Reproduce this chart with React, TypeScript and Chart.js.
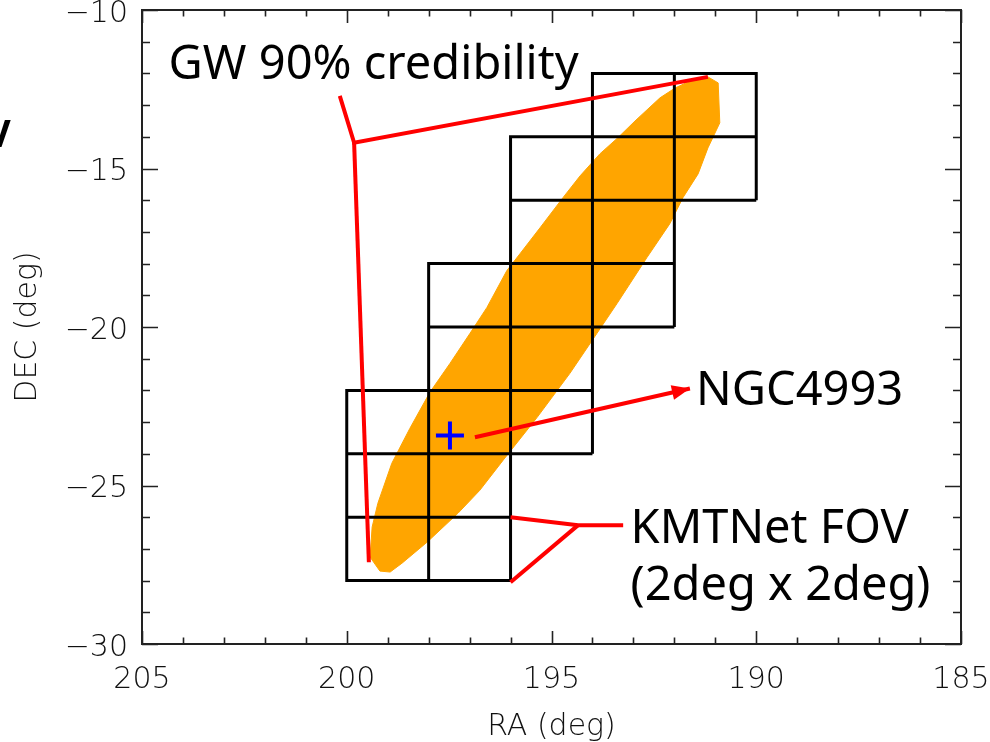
import React, { useEffect, useRef } from 'react';
import { Chart, registerables } from 'chart.js';

Chart.register(...registerables);

// GW 90% credibility region outline (RA, DEC in degrees)
const gwRA = [191.50, 191.18, 190.93, 190.89, 191.18, 191.42, 191.79, 192.11, 192.67, 193.40, 193.89, 194.55, 195.35, 196.18, 196.75, 197.28, 198.04, 198.65, 198.94, 199.19, 199.43, 199.38, 199.24, 198.90, 198.46, 197.97, 197.48, 196.99, 196.58, 196.09, 195.77, 195.28, 194.72, 194.30, 193.82, 193.38, 192.96, 192.35, 191.98];
const gwDEC = [-12.17, -12.11, -12.30, -13.56, -14.35, -15.17, -15.92, -16.74, -17.81, -19.26, -20.20, -21.46, -22.85, -24.20, -25.15, -25.87, -26.79, -27.45, -27.73, -27.70, -27.26, -26.31, -25.56, -24.30, -23.20, -22.06, -21.15, -20.20, -19.39, -18.22, -17.69, -16.87, -15.92, -15.23, -14.54, -14.03, -13.50, -12.77, -12.46];

// KMTNet fields (2deg x 2deg), centres
const tileRA = [193, 191, 193, 191, 195, 195, 193, 195, 193, 197, 197, 195, 199, 197, 195, 199, 197, 199, 197];
const tileDEC = [-13, -13, -15, -15, -15, -17, -17, -19, -19, -19, -21, -21, -23, -23, -23, -25, -25, -27, -27];
const tileSize = 2;

// NGC4993 position
const ngcRA = [197.48];
const ngcDEC = [-23.42];

// Leader lines (RA, DEC)
const gwLeadRA = [200.17, 199.82, 191.18];
const gwLeadDEC = [-12.71, -14.19, -12.11];
const gwLead2RA = [199.82, 199.46];
const gwLead2DEC = [-14.19, -27.42];
const ngcArrowRA = [196.87, 191.62];
const ngcArrowDEC = [-23.48, -21.94];
const kmtLeadRA = [196.0, 194.35, 193.25];
const kmtLeadDEC = [-26.0, -26.25, -26.25];
const kmtLead2RA = [196.0, 194.35];
const kmtLead2DEC = [-28.05, -26.25];

// Annotation texts and their anchors (left, baseline) in RA/DEC
const annotText = ['GW 90% credibility', 'NGC4993', 'KMTNet FOV', '(2deg x 2deg)'];
const annotRA = [204.35, 191.47, 193.07, 193.07];
const annotDEC = [-12.17, -22.47, -26.82, -28.61];

// Axes
const xMajorTicks = [205, 200, 195, 190, 185];
const yMajorTicks = [-30, -25, -20, -15, -10];
const xRange = [185, 205];
const yRange = [-30, -10];

const pts = (xs: number[], ys: number[]) => xs.map((x, i) => ({ x, y: ys[i] }));

const AXIS_FONT = { family: 'DejaVu Sans', size: 30, weight: 200 as any };

export default function App() {
  const ref = useRef<HTMLCanvasElement | null>(null);

  useEffect(() => {
    if (!ref.current) return;

    const blob = pts(gwRA, gwDEC);
    blob.push({ ...blob[0] });

    const boxData: any[] = [];
    tileRA.forEach((ra, i) => {
      const dec = tileDEC[i];
      const h = tileSize / 2;
      boxData.push({ x: ra - h, y: dec - h }, { x: ra + h, y: dec - h }, { x: ra + h, y: dec + h }, { x: ra - h, y: dec + h }, { x: ra - h, y: dec - h }, { x: null, y: null });
    });

    const redLine = (data: any[], order: number) => ({
      data, showLine: true, borderColor: '#ff0000', borderWidth: 4, pointRadius: 0, fill: false, order,
      borderJoinStyle: 'miter' as const,
    });

    const datasets: any[] = [
      { data: blob, showLine: true, fill: 'shape', backgroundColor: '#ffa500', borderColor: '#ffa500', borderWidth: 1, pointRadius: 0, order: 10 },
      { data: boxData, showLine: true, borderColor: '#000000', borderWidth: 3, pointRadius: 0, fill: false, spanGaps: false, order: 5 },
      redLine(pts(gwLeadRA, gwLeadDEC), 2),
      redLine(pts(gwLead2RA, gwLead2DEC), 2),
      redLine(pts(ngcArrowRA, ngcArrowDEC), 2),
      redLine(pts(kmtLeadRA, kmtLeadDEC), 2),
      redLine(pts(kmtLead2RA, kmtLead2DEC), 2),
      { data: pts(ngcRA, ngcDEC), showLine: false, pointStyle: 'cross', pointRadius: 14, pointBorderWidth: 4, pointBorderColor: '#0000ff', borderColor: '#0000ff', order: 1 },
    ];
    const arrowIndex = 4;

    const annotPlugin = {
      id: 'annot',
      afterDatasetsDraw(chart: any) {
        const { ctx, scales } = chart;
        const x = scales.x, y = scales.y;
        // arrow head
        const meta = chart.getDatasetMeta(arrowIndex);
        const p = meta.data;
        const p0 = p[p.length - 2], p1 = p[p.length - 1];
        const ang = Math.atan2(p1.y - p0.y, p1.x - p0.x);
        const L = 18, W = 7.5;
        const bx = p1.x - L * Math.cos(ang), by = p1.y - L * Math.sin(ang);
        const nx = -Math.sin(ang), ny = Math.cos(ang);
        ctx.save();
        ctx.fillStyle = '#ff0000';
        ctx.beginPath();
        ctx.moveTo(p1.x, p1.y);
        ctx.lineTo(bx + W * nx, by + W * ny);
        ctx.lineTo(bx - W * nx, by - W * ny);
        ctx.closePath();
        ctx.fill();
        // texts
        ctx.fillStyle = '#000000';
        ctx.font = '47px "Noto Sans"';
        ctx.textAlign = 'left';
        ctx.textBaseline = 'alphabetic';
        annotText.forEach((t, i) => {
          ctx.fillText(t, x.getPixelForValue(annotRA[i]), y.getPixelForValue(annotDEC[i]));
        });
        ctx.restore();
      },
      afterDraw(chart: any) {
        const { ctx, chartArea: a, scales } = chart;
        const x = scales.x, y = scales.y;
        ctx.save();
        ctx.strokeStyle = '#222222';
        ctx.lineWidth = 2;
        ctx.strokeRect(a.left, a.top, a.right - a.left, a.bottom - a.top);
        ctx.beginPath();
        for (let v = xRange[0]; v <= xRange[1]; v++) {
          const px = Math.round(x.getPixelForValue(v)) + 0.5;
          const len = xMajorTicks.includes(v) ? 13 : 6.5;
          ctx.moveTo(px, a.bottom); ctx.lineTo(px, a.bottom - len);
          ctx.moveTo(px, a.top); ctx.lineTo(px, a.top + len);
        }
        for (let v = yRange[0]; v <= yRange[1]; v++) {
          const py = Math.round(y.getPixelForValue(v)) + 0.5;
          const len = yMajorTicks.includes(v) ? 16 : 8;
          ctx.moveTo(a.left, py); ctx.lineTo(a.left + len, py);
          ctx.moveTo(a.right, py); ctx.lineTo(a.right - len, py);
        }
        ctx.lineWidth = 1.6;
        ctx.stroke();
        ctx.restore();
      },
    };

    const zeroMargins = (s: any) => {
      s.paddingLeft = 0; s.paddingRight = 0; s.paddingTop = 0; s.paddingBottom = 0;
    };

    const chart = new Chart(ref.current, {
      type: 'scatter',
      data: { datasets },
      options: {
        animation: false,
        responsive: true,
        maintainAspectRatio: false,
        events: [],
        layout: { autoPadding: false, padding: { top: 10, right: 29, bottom: 0, left: 0 } },
        plugins: { legend: { display: false }, tooltip: { enabled: false } },
        scales: {
          x: {
            type: 'linear', min: xRange[0], max: xRange[1], reverse: true,
            afterFit: (s: any) => { s.height = 98; zeroMargins(s); },
            grid: { display: false, drawTicks: false },
            border: { display: false },
            afterBuildTicks: (s: any) => { s.ticks = xMajorTicks.map((v) => ({ value: v })); },
            ticks: { padding: 18, color: '#111111', font: AXIS_FONT, maxRotation: 0, autoSkip: false, callback: (v: any) => String(v) },
            title: { display: true, text: 'RA (deg)', color: '#111111', font: AXIS_FONT, padding: { top: 0, bottom: -3 } },
          },
          y: {
            type: 'linear', min: yRange[0], max: yRange[1],
            afterFit: (s: any) => { s.width = 142; zeroMargins(s); },
            grid: { display: false, drawTicks: false },
            border: { display: false },
            afterBuildTicks: (s: any) => { s.ticks = yMajorTicks.map((v) => ({ value: v })); },
            ticks: { padding: 14, labelOffset: 4, color: '#111111', font: AXIS_FONT, autoSkip: false, callback: (v: any) => (v < 0 ? '\u2212' + Math.abs(v) : String(v)) },
            title: { display: true, text: 'DEC (deg)', color: '#111111', font: AXIS_FONT, padding: { top: 10, bottom: 0 } },
          },
        },
      } as any,
      plugins: [annotPlugin],
    });
    return () => chart.destroy();
  }, []);

  return (
    <div style={{ position: 'absolute', left: 0, top: 0, width: 990, height: 742, overflow: 'hidden', background: '#ffffff' }}>
      <canvas ref={ref} />
      <span style={{ position: 'absolute', left: -14, top: 106, fontFamily: '"Noto Sans"', fontWeight: 700, fontSize: 38, lineHeight: 'normal', color: '#000' }}>V</span>
    </div>
  );
}
